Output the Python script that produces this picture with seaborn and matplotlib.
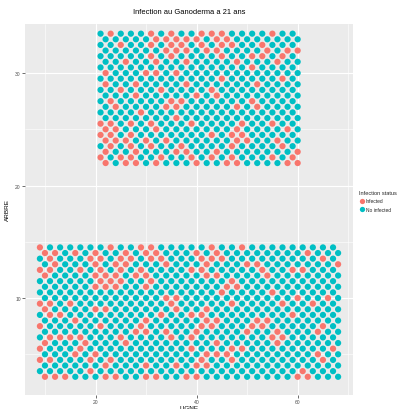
import numpy as np
import pandas as pd
import matplotlib
matplotlib.use("Agg")
import matplotlib.pyplot as plt
from matplotlib.ticker import MultipleLocator
from matplotlib.lines import Line2D
import seaborn as sns

sns.set_theme(style="darkgrid", rc={"axes.facecolor": "#EBEBEB", "grid.color": "white"})
plt.rcParams["font.family"] = ["Liberation Sans", "DejaVu Sans"]

# === Plantation layout ===
# even LIGNE sit on integer ARBRE, odd LIGNE are drawn half a tree higher
top_lignes = list(range(21, 61))
top_arbres = list(range(22, 34))
bottom_lignes = list(range(9, 69))
bottom_arbres = list(range(3, 15))

# infected trees: LIGNE values per drawn row, from the top row of each block down
top_infected = [
    [23, 31, 35, 41, 43, 45, 55],
    [32, 34, 36, 38, 40, 44, 46],
    [25, 31, 35, 37, 41, 45, 47, 53],
    [34, 36, 38, 42, 44, 54, 58, 60],
    [31, 35, 45, 51, 53, 57],
    [26, 32, 38, 48, 56],
    [51],
    [22, 30, 32, 36],
    [45, 57],
    [22, 28, 38, 52],
    [25, 33, 43],
    [28, 40, 44],
    [23, 35, 37, 51],
    [24, 34, 36, 48, 52],
    [29],
    [36],
    [21, 23, 27, 31, 39, 49, 55],
    [22, 24, 32, 48, 58],
    [21, 23, 27, 43, 47, 49],
    [22, 24, 26, 30, 34, 48, 50, 56],
    [23, 27, 31, 37, 47, 57],
    [22, 28, 36, 38, 44, 60],
    [21, 25, 27, 33, 39, 43, 47, 55, 59],
    [22, 26, 28, 32, 40, 46, 48, 58, 60],
]
bottom_infected = [
    [9, 23, 29, 31, 43, 49],
    [10, 12, 16, 20, 26, 30, 32, 40, 44, 62],
    [11, 19, 21, 25, 27, 31, 33, 41, 43, 45, 65],
    [12, 20, 24, 26, 34, 42, 50, 52, 68],
    [9, 11, 17, 21, 25, 29, 39, 41, 53, 59, 61],
    [10, 20, 22, 24, 28, 30, 42, 44, 54],
    [21, 23, 25, 31, 47],
    [20, 22, 24, 30, 46, 48],
    [45, 55],
    [34, 36, 60, 66],
    [9, 11, 15, 35, 47, 57, 63],
    [10, 20, 22, 36, 42],
    [11, 13, 33, 39, 41, 59],
    [16, 30, 42, 44, 52, 54],
    [9, 21, 29, 41, 43, 51, 53, 65],
    [28, 30, 34, 40, 50, 56, 64],
    [11, 13, 15, 17, 25, 35, 39, 55, 57],
    [10, 18, 26, 44, 56],
    [9, 17, 39, 47, 49, 67],
    [16, 20, 42, 44, 46, 64],
    [9, 11, 19, 23, 41, 47, 65],
    [22, 30, 36, 40, 42],
    [19, 61],
    [10, 12, 14, 22, 24, 30, 32, 38, 40, 60, 62],
]

status_labels = ["Infected", "No infected"]
status_colors = ["#F8766D", "#00BFC4"]


def block_frame(lignes, arbres, infected):
    records = []
    levels = []
    for a in sorted(arbres, reverse=True):
        levels += [a + 0.5, a]
    for level, sick in zip(levels, infected):
        odd = level % 1 != 0
        for l in lignes:
            if (l % 2 == 1) != odd:
                continue
            records.append({"LIGNE": l, "ARBRE": level,
                            "status": status_labels[0] if l in sick else status_labels[1]})
    return pd.DataFrame(records)


df = pd.concat([block_frame(top_lignes, top_arbres, top_infected),
                block_frame(bottom_lignes, bottom_arbres, bottom_infected)])

# === Plot ===
fig = plt.figure(figsize=(4.04, 4.10), dpi=100)
ax = fig.add_axes([25 / 404, 14 / 410, 328 / 404, 371 / 410])

sns.scatterplot(data=df, x="LIGNE", y="ARBRE", hue="status", hue_order=status_labels,
                palette=status_colors, s=20, linewidth=0, legend=False, ax=ax, zorder=3)

ax.set_xlim(6.05, 70.95)
ax.set_ylim(1.38, 34.36)
ax.xaxis.set_major_locator(MultipleLocator(20))
ax.xaxis.set_minor_locator(MultipleLocator(10))
ax.yaxis.set_major_locator(MultipleLocator(10))
ax.yaxis.set_minor_locator(MultipleLocator(5))
ax.grid(which="major", color="white", linewidth=0.8)
ax.grid(which="minor", color="white", linewidth=0.4)
for s in ax.spines.values():
    s.set_visible(False)
ax.tick_params(which="major", length=2, width=0.5, color="#333333", labelsize=3.6,
               labelcolor="#4D4D4D", pad=1, bottom=True, left=True)
ax.tick_params(which="minor", length=0)

ax.set_xlabel("LIGNE", fontsize=4.6, color="black", labelpad=0.3)
ax.set_ylabel("ARBRE", fontsize=4.6, color="black", labelpad=4)
ax.set_title("Infection au Ganoderma a 21 ans", fontsize=5.4, color="black", pad=8)

handles = [Line2D([], [], marker="o", linestyle="", markersize=3.8, markerfacecolor=c,
                  markeredgewidth=0) for c in status_colors]
leg = fig.legend(handles, status_labels, title="Infection status", loc="upper left",
                 bbox_to_anchor=(359 / 404, 1 - 191 / 410), frameon=False, fontsize=3.5,
                 title_fontsize=4.1, handletextpad=0.3, handlelength=1.1, labelspacing=0.7,
                 borderaxespad=0, borderpad=0)
leg._legend_box.align = "left"

fig.savefig("out.png", dpi=100)
